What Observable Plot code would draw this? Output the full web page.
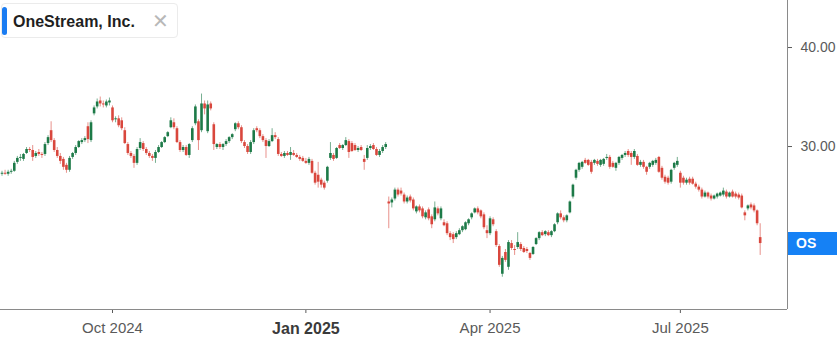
<!DOCTYPE html>
<html><head><meta charset="utf-8">
<script src="https://cdn.jsdelivr.net/npm/d3@7"></script>
<script src="https://cdn.jsdelivr.net/npm/@observablehq/plot@0.6"></script>
<style>
body{margin:0;background:#fff;font-family:"Liberation Sans",Arial,sans-serif;}
#wrap{position:relative;width:837px;height:337px;overflow:hidden;}
#wrap svg{position:absolute;left:0;top:0;}
#legend{position:absolute;left:1px;top:3px;width:177px;height:35px;box-sizing:border-box;border:1px solid #ebebeb;border-radius:4px;background:#fff;}
#legend .bar{position:absolute;left:0px;top:3px;width:5px;height:28px;background:#1a7cf2;border-radius:3px;}
#legend .name{position:absolute;left:11px;top:10px;font-weight:bold;font-size:16px;line-height:16px;color:#1f1f1f;white-space:nowrap;}
#legend .close{position:absolute;left:150px;top:7px;font-size:20px;line-height:20px;color:#b8b8b8;font-family:"DejaVu Sans",sans-serif;}
#oslabel{position:absolute;left:788px;width:49px;height:23px;background:#1581f5;color:#fff;font-weight:bold;font-size:14px;line-height:23px;padding-left:8px;box-sizing:border-box;}
</style></head><body>
<div id="wrap"></div>
<script>
const company = "OneStream, Inc.";
const symbol = "OS";
const tickIndex = [36, 99, 159, 221];
const tickLabels = ["Oct 2024", "Jan 2025", "Apr 2025", "Jul 2025"];
const tickBold = [false, true, false, false];
const yTicks = [30, 40];

const open = [
27.2,27.3,27.2,27.4,27.5,28.4,28.8,28.7,29.3,29.7,
29.6,29.0,29.4,29.2,29.2,30.3,31.6,30.6,29.6,29.0,
28.7,28.1,27.6,28.9,29.3,29.9,30.4,30.6,32.0,30.6,
33.3,34.0,34.6,34.3,34.1,34.4,33.9,32.7,32.8,32.6,
31.6,30.2,29.3,29.0,28.3,29.8,30.3,29.7,29.3,29.0,
28.8,29.4,29.9,30.4,31.0,31.9,32.4,31.8,30.4,29.6,
29.9,29.1,30.6,32.3,32.5,31.6,34.3,31.5,34.3,32.2,
29.9,30.2,29.9,30.2,30.5,30.9,31.7,32.3,31.9,30.4,
30.0,29.4,30.4,31.8,31.6,31.0,30.6,30.0,30.5,31.1,
30.7,29.2,29.0,29.3,29.1,29.3,29.1,28.9,28.8,28.5,
28.3,28.5,27.3,27.1,26.6,26.3,26.5,28.8,29.1,28.8,
30.1,29.8,30.1,30.5,30.3,30.1,29.6,29.9,28.7,28.8,
29.8,30.1,29.7,29.1,29.5,29.9,24.4,24.3,24.7,25.6,
25.5,25.1,24.4,24.9,24.6,23.4,23.9,23.7,22.8,23.6,
22.9,22.6,23.7,22.7,22.3,22.2,21.2,21.1,20.8,21.1,
21.5,21.6,22.2,22.8,23.3,23.7,23.5,23.1,21.5,21.2,
22.6,21.4,19.9,17.1,19.3,17.8,20.2,19.6,19.8,20.1,
19.7,19.6,19.2,19.1,20.1,20.7,21.3,21.1,21.3,21.0,
21.4,22.3,23.2,22.8,22.5,23.3,24.9,26.8,27.6,27.9,
28.6,28.6,28.4,28.3,28.5,28.1,28.2,28.8,28.9,28.3,
27.8,28.3,28.8,29.1,29.5,29.3,28.9,29.0,28.1,28.4,
27.9,27.9,28.1,28.3,28.9,27.8,26.9,26.8,26.4,27.8,
28.1,27.3,26.8,26.3,26.7,26.7,26.2,25.9,25.6,24.9,
25.3,25.0,24.7,24.9,25.0,25.1,25.4,24.9,25.4,25.2,
25.1,25.0,23.3,23.7,24.1,24.0,23.5,20.8];

const high = [
27.5,27.6,27.6,27.7,28.5,29.0,29.2,29.3,29.9,29.9,
30.1,29.5,29.7,29.4,30.4,31.1,32.5,30.8,29.9,29.3,
28.9,28.3,29.0,29.4,30.1,30.6,30.8,31.0,32.4,32.6,
34.1,34.8,35.0,34.6,34.7,34.9,34.1,33.0,33.1,32.9,
31.9,30.4,29.5,29.2,29.9,30.8,30.5,29.9,29.5,29.2,
29.6,30.1,30.5,31.0,31.5,32.9,32.8,32.0,30.6,30.1,
30.1,30.3,32.0,34.2,32.7,35.3,34.6,34.6,34.5,32.4,
30.3,30.4,30.3,30.7,31.0,31.3,32.4,32.5,32.1,30.6,
30.2,30.6,31.8,32.0,31.8,31.2,30.8,30.7,31.8,31.4,
30.9,29.4,29.5,29.5,29.9,29.6,29.3,29.1,29.0,28.8,
28.9,28.7,27.5,28.4,26.8,26.5,28.0,30.4,29.3,29.9,
30.3,30.2,30.9,30.7,30.5,30.3,30.0,30.1,29.1,30.1,
30.2,30.3,29.9,29.7,30.1,30.4,24.9,24.8,25.8,25.8,
25.8,25.3,25.0,25.1,24.8,24.0,24.1,23.9,23.5,23.8,
23.1,24.4,23.9,23.9,22.6,22.4,21.4,21.3,21.4,21.7,
22.0,22.4,22.7,23.3,23.8,23.9,23.6,23.3,22.0,22.9,
22.8,21.6,20.1,18.9,19.6,20.5,20.5,20.0,21.3,20.3,
19.9,19.8,19.3,19.9,20.8,21.4,21.5,21.5,21.5,21.5,
22.2,23.3,23.5,23.0,23.1,24.5,26.2,27.7,28.4,28.5,
28.8,28.7,28.6,28.7,28.7,28.7,28.8,29.2,29.1,28.5,
28.4,29.0,29.2,29.5,29.7,29.5,29.7,29.2,28.6,28.6,
28.0,28.4,28.6,28.8,29.0,28.0,27.1,27.0,27.7,28.4,
28.9,27.5,27.0,26.8,26.9,26.9,26.4,26.1,25.8,25.5,
25.4,25.2,25.1,25.3,25.4,25.8,25.6,25.4,25.6,25.4,
25.3,25.2,23.5,24.1,24.3,24.2,23.6,22.2];

const low = [
27.0,27.1,27.0,27.2,27.4,28.2,28.5,28.5,29.2,29.4,
28.5,28.8,29.0,28.8,29.0,30.1,30.4,29.4,28.8,28.2,
27.6,27.3,27.4,28.7,29.1,29.8,30.2,30.4,30.3,30.4,
33.1,33.8,34.0,33.9,33.9,34.1,32.4,32.4,31.9,31.6,
30.2,29.1,28.8,27.8,28.1,29.6,29.5,29.1,28.8,28.5,
28.3,29.3,29.8,30.3,30.9,31.8,31.7,30.3,29.4,29.4,
29.0,28.8,30.4,32.1,29.6,31.4,33.2,31.3,33.6,29.6,
29.7,29.7,29.6,30.0,30.3,30.7,31.5,31.7,30.3,29.8,
29.2,29.2,30.2,31.4,30.8,30.4,28.8,29.9,30.4,30.7,
29.0,28.9,28.8,29.0,28.6,29.0,28.8,28.5,28.4,28.2,
28.1,27.2,26.1,25.8,25.8,25.6,26.3,28.6,28.5,28.7,
29.7,29.6,30.0,28.8,29.4,29.5,29.4,29.5,27.6,28.6,
29.6,29.6,29.0,28.9,29.3,29.7,21.7,23.8,24.5,24.9,
25.0,24.2,24.2,24.3,23.5,23.2,23.3,22.7,22.6,22.5,
21.7,22.4,23.0,22.5,21.9,21.0,20.5,20.2,20.6,21.0,
21.3,21.5,22.0,22.6,23.2,23.1,22.7,21.6,20.7,21.0,
21.9,19.8,17.8,16.8,18.3,17.5,19.5,19.0,19.6,19.4,
19.2,19.2,18.5,19.0,20.0,20.5,20.9,20.9,20.9,20.8,
21.3,22.1,22.6,22.3,22.3,23.2,24.7,26.6,27.4,27.7,
28.2,28.0,27.2,28.1,28.0,27.9,28.0,28.6,27.7,27.8,
27.5,28.1,28.6,28.9,28.9,28.1,28.7,28.0,27.9,27.7,
27.1,27.7,27.9,28.1,27.3,26.6,26.2,26.1,26.2,27.6,
27.9,25.8,26.1,26.1,26.1,26.1,25.7,25.4,24.7,24.8,
24.7,24.5,24.6,24.7,24.9,24.9,24.7,24.8,24.8,24.7,
24.6,23.7,22.5,23.5,23.6,23.3,22.0,19.0];

const close = [
27.3,27.2,27.4,27.5,28.3,28.8,28.9,29.2,29.7,29.6,
28.9,29.3,29.2,29.1,30.2,30.9,30.6,29.6,29.0,28.5,
27.9,27.6,28.8,29.3,29.9,30.5,30.6,30.8,30.7,32.4,
33.9,34.5,34.3,34.2,34.5,34.6,32.6,32.8,32.1,31.8,
30.3,29.3,29.0,28.3,29.7,30.4,29.7,29.3,29.0,28.8,
29.4,29.9,30.4,30.9,31.4,32.6,31.9,30.4,29.6,29.9,
29.1,30.2,31.8,34.0,30.6,34.3,33.8,34.2,33.8,30.2,
30.2,29.9,30.2,30.5,30.9,31.2,32.3,31.9,30.5,30.0,
29.4,30.4,31.6,31.6,31.0,30.6,30.0,30.5,31.1,30.9,
29.2,29.0,29.3,29.1,29.4,29.1,28.9,28.7,28.5,28.3,
28.7,27.3,26.3,26.4,26.1,25.8,27.9,29.3,28.7,29.8,
29.8,30.1,30.6,29.4,29.5,29.6,29.8,29.6,28.4,29.8,
30.0,29.7,29.1,29.5,29.9,30.2,24.2,24.6,25.6,25.1,
25.2,24.4,24.8,24.5,23.7,23.9,23.5,22.9,23.3,22.7,
22.1,23.8,23.2,23.7,22.0,21.2,20.8,20.6,21.2,21.5,
21.9,22.3,22.6,23.2,23.7,23.3,22.9,21.8,21.2,22.7,
22.1,20.0,18.0,18.7,18.5,20.3,19.7,19.5,20.3,19.6,
19.3,19.4,18.7,19.8,20.7,21.3,21.0,21.4,21.0,21.4,
22.1,23.2,22.8,22.5,23.0,24.4,26.1,27.6,28.3,28.4,
28.3,28.1,27.4,28.6,28.2,28.6,28.7,28.9,27.9,27.9,
28.3,28.9,29.1,29.3,29.1,28.9,29.5,28.1,28.4,27.9,
27.4,28.3,28.5,28.6,27.4,26.8,26.4,26.3,27.6,28.3,
28.5,26.3,26.3,26.6,26.3,26.2,25.9,25.6,24.9,25.3,
24.9,24.7,25.0,25.2,25.3,25.5,24.9,25.3,24.9,24.9,
24.8,23.8,23.0,24.0,23.8,23.5,22.2,20.2];

const UP = "#1d7a48", DOWN = "#d9473d";
const data = close.map((c, i) => ({i, o: open[i], h: high[i], l: low[i], c, up: c >= open[i]}));
const xDomain = [-0.49, 255.9];
const yDomain = [13.54, 44.75];

const chart = Plot.plot({
  width: 837, height: 337,
  marginLeft: 0, marginRight: 50, marginTop: 0, marginBottom: 28,
  style: {fontSize: "14px", fontFamily: "'Liberation Sans', Arial, sans-serif", color: "#5a5a5a", background: "#fff"},
  x: {domain: xDomain, ticks: tickIndex, tickFormat: d => tickLabels[tickIndex.indexOf(d)], tickSize: 4, tickPadding: 9, label: null},
  y: {domain: yDomain, axis: "right", ticks: yTicks, tickFormat: d => d.toFixed(2), tickSize: 4, tickPadding: 9, label: null},
  marks: [
    Plot.ruleY([yDomain[0]], {stroke: "#8a8a8a", strokeWidth: 1}),
    Plot.ruleX([xDomain[1]], {stroke: "#8a8a8a", strokeWidth: 1}),
    Plot.ruleX(data, {x: "i", y1: "l", y2: "h", stroke: d => d.up ? UP : DOWN, strokeOpacity: 0.6, strokeWidth: 1}),
    Plot.ruleX(data, {x: "i", y1: "o", y2: "c", stroke: d => d.up ? UP : DOWN, strokeWidth: 2.6})
  ]
});

const wrap = document.getElementById("wrap");
wrap.appendChild(chart);

// style x tick labels (year-start label is bold)
chart.querySelectorAll("text").forEach(t => {
  const k = tickLabels.indexOf(t.textContent);
  if (k >= 0) {
    t.setAttribute("font-size", tickBold[k] ? "16px" : "15px");
    if (tickBold[k]) {
      t.setAttribute("font-weight", "bold");
      t.setAttribute("fill", "#3a3a3a");
    }
  }
});

// legend
const legend = document.createElement("div");
legend.id = "legend";
legend.innerHTML = '<div class="bar"></div><span class="name"></span><span class="close">✕</span>';
legend.querySelector(".name").textContent = company;
wrap.appendChild(legend);

// last price label on the right axis
const yScale = chart.scale("y");
const lastY = yScale.apply(close[close.length - 1]);
const lab = document.createElement("div");
lab.id = "oslabel";
lab.textContent = symbol;
lab.style.top = (lastY - 11.5) + "px";
wrap.appendChild(lab);
</script>
</body></html>
